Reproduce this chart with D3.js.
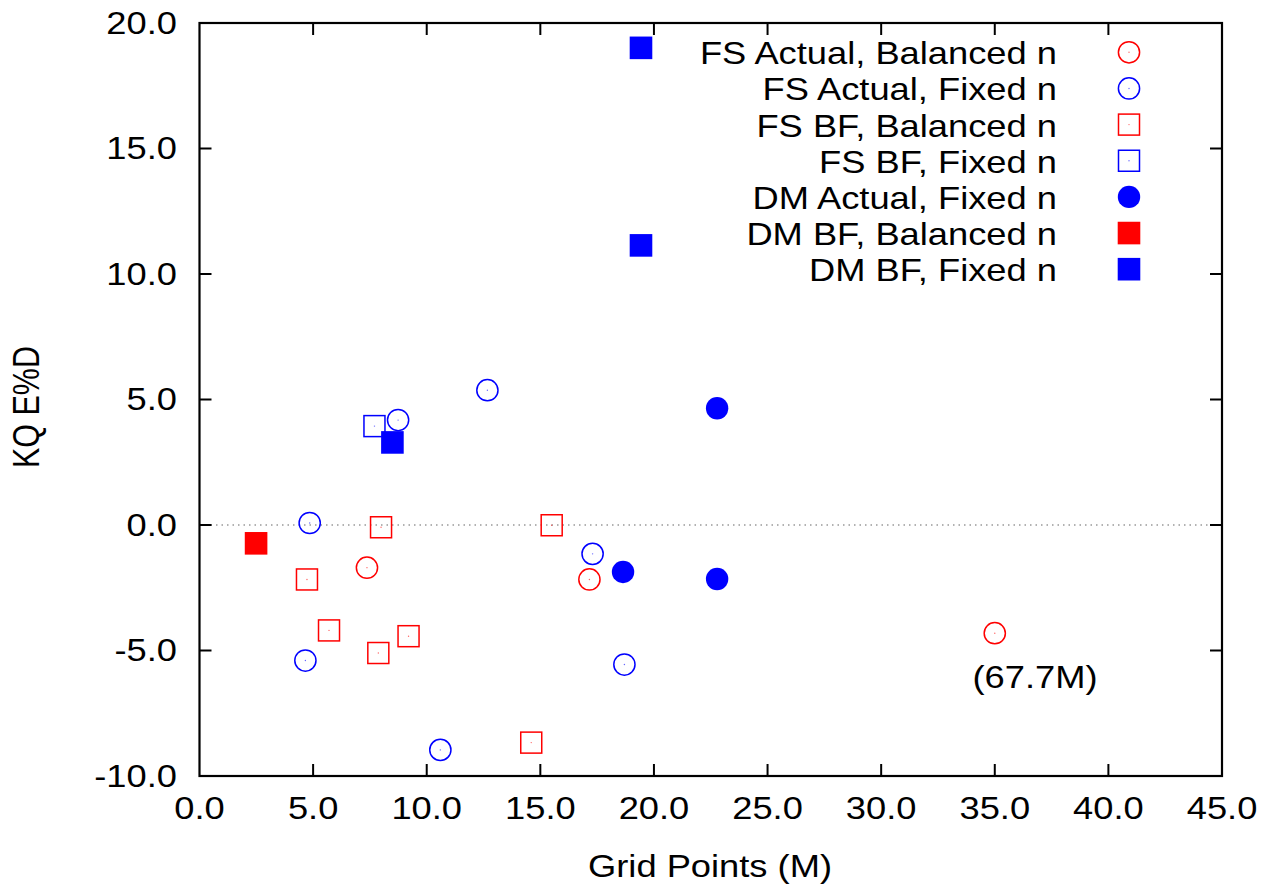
<!DOCTYPE html>
<html lang="en">
<head>
<meta charset="UTF-8">
<title>KQ E%D vs Grid Points</title>
<style>
  body { margin: 0; background: #fff; }
  svg { display: block; }
  text { font-family: "Liberation Sans", Arial, Helvetica, sans-serif; fill: #000; }
</style>
</head>
<body>
<script src="https://d3js.org/d3.v7.min.js"></script>
<div id="chart"></div>
<script>
// series values (x = grid points in M, y = KQ E%D)
var fsActualBalancedX = [7.37, 17.16, 35.0];
var fsActualBalancedY = [-1.70, -2.17, -4.31];
var fsActualFixedX = [12.67, 8.74, 4.85, 17.30, 4.66, 18.70, 10.60];
var fsActualFixedY = [5.37, 4.18, 0.08, -1.15, -5.40, -5.56, -8.96];
var fsBfBalancedX = [7.99, 15.50, 4.73, 5.70, 7.87, 9.20, 14.60];
var fsBfBalancedY = [-0.09, -0.01, -2.17, -4.20, -5.10, -4.43, -8.67];
var fsBfFixedX = [7.70];
var fsBfFixedY = [3.94];
var dmActualFixedX = [18.64, 22.78, 22.78];
var dmActualFixedY = [-1.87, 4.65, -2.15];
var dmBfBalancedX = [2.49];
var dmBfBalancedY = [-0.73];
var dmBfFixedX = [8.49, 19.43, 19.43];
var dmBfFixedY = [3.29, 19.01, 11.14];

var seriesNames = ["FS Actual, Balanced n", "FS Actual, Fixed n", "FS BF, Balanced n",
                   "FS BF, Fixed n", "DM Actual, Fixed n", "DM BF, Balanced n", "DM BF, Fixed n"];
var xTicks = [0, 5, 10, 15, 20, 25, 30, 35, 40, 45];
var yTicks = [-10, -5, 0, 5, 10, 15, 20];
var outlierLabel = "(67.7M)";

var W = 1268, H = 886;
var plotL = 199.5, plotR = 1222, plotT = 23, plotB = 776;
var stretch = 1.19;   // the source text is drawn a little wide

var x = d3.scaleLinear().domain([0, 45]).range([plotL, plotR]);
var y = d3.scaleLinear().domain([-10, 20]).range([plotB, plotT]);

var svg = d3.select("#chart").append("svg")
  .attr("width", W).attr("height", H);

function label(g, tx, ty, str, anchor, rot) {
  return g.append("text")
    .attr("transform", "translate(" + tx + "," + ty + ") scale(" + stretch + ",1)" + (rot ? " rotate(" + rot + ")" : ""))
    .attr("text-anchor", anchor)
    .style("font-size", "30.5px")
    .text(str);
}

// zero line
svg.append("line")
  .attr("x1", plotL).attr("x2", plotR)
  .attr("y1", y(0)).attr("y2", y(0))
  .attr("stroke", "#999").attr("stroke-width", 1.4)
  .attr("stroke-dasharray", "1.5,4");

// ticks (inward, mirrored on all sides)
var tickLen = 12;
var ax = svg.append("g").attr("stroke", "#000").attr("stroke-width", 2);
xTicks.slice(1, -1).forEach(function(t) {
  ax.append("line").attr("x1", x(t)).attr("x2", x(t)).attr("y1", plotB).attr("y2", plotB - tickLen);
  ax.append("line").attr("x1", x(t)).attr("x2", x(t)).attr("y1", plotT).attr("y2", plotT + tickLen);
});
yTicks.slice(1, -1).forEach(function(t) {
  ax.append("line").attr("x1", plotL).attr("x2", plotL + tickLen).attr("y1", y(t)).attr("y2", y(t));
  ax.append("line").attr("x1", plotR).attr("x2", plotR - tickLen).attr("y1", y(t)).attr("y2", y(t));
});
svg.append("rect")
  .attr("x", plotL).attr("y", plotT)
  .attr("width", plotR - plotL).attr("height", plotB - plotT)
  .attr("fill", "none").attr("stroke", "#000").attr("stroke-width", 2.2);

// tick labels (plain hyphen for negatives, like the source)
var fmt = function(v) { return v.toFixed(1); };
xTicks.forEach(function(t) { label(svg, x(t), 819, fmt(t), "middle"); });
yTicks.forEach(function(t) { label(svg, 177, y(t) + 10.7, fmt(t), "end"); });

// axis titles
label(svg, 710, 877, "Grid Points (M)", "middle");
label(svg, 39, 407, "KQ E%D", "middle", -90);

// marker drawing
var red = "#ff0000", blue = "#0000ff";
function marker(g, shape, color, filled, cx, cy) {
  if (shape === "circle") {
    g.append("circle").attr("cx", cx).attr("cy", cy)
      .attr("r", filled ? 11.2 : 10.6)
      .attr("fill", filled ? color : "none")
      .attr("stroke", filled ? "none" : color).attr("stroke-width", 1.5);
  } else {
    var s = filled ? 22.6 : 21;
    g.append("rect").attr("x", cx - s / 2).attr("y", cy - s / 2)
      .attr("width", s).attr("height", s)
      .attr("fill", filled ? color : "none")
      .attr("stroke", filled ? "none" : color).attr("stroke-width", 1.5);
  }
  if (!filled) {
    g.append("circle").attr("cx", cx).attr("cy", cy).attr("r", 0.7)
      .attr("fill", color).attr("opacity", 0.6);
  }
}

var series = [
  { xs: fsActualBalancedX, ys: fsActualBalancedY, shape: "circle", color: red, filled: false },
  { xs: fsActualFixedX, ys: fsActualFixedY, shape: "circle", color: blue, filled: false },
  { xs: fsBfBalancedX, ys: fsBfBalancedY, shape: "square", color: red, filled: false },
  { xs: fsBfFixedX, ys: fsBfFixedY, shape: "square", color: blue, filled: false },
  { xs: dmActualFixedX, ys: dmActualFixedY, shape: "circle", color: blue, filled: true },
  { xs: dmBfBalancedX, ys: dmBfBalancedY, shape: "square", color: red, filled: true },
  { xs: dmBfFixedX, ys: dmBfFixedY, shape: "square", color: blue, filled: true }
];

var pts = svg.append("g");
series.forEach(function(s) {
  s.xs.forEach(function(v, i) { marker(pts, s.shape, s.color, s.filled, x(v), y(s.ys[i])); });
});

// outlier note
label(svg, x(36.77), 688, outlierLabel, "middle");

// legend
var lg = svg.append("g");
seriesNames.forEach(function(name, i) {
  var cy = 52.3 + i * 36.15;
  label(lg, 1057, cy + 12, name, "end");
  marker(lg, series[i].shape, series[i].color, series[i].filled, 1129, cy);
});
</script>
</body>
</html>
